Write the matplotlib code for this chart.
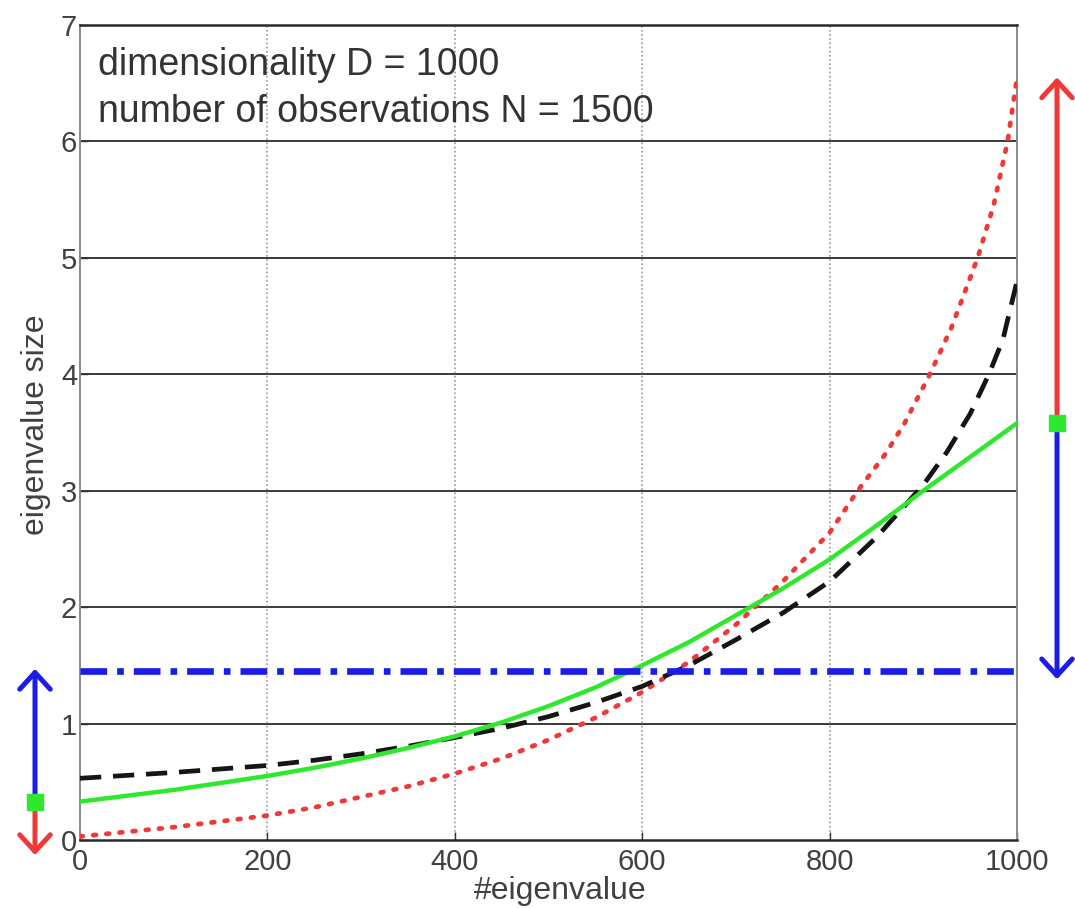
import matplotlib
matplotlib.use("Agg")
import matplotlib.pyplot as plt

plt.rcParams['font.family'] = ['Liberation Sans', 'DejaVu Sans']

# data
x_green = [0, 50, 100, 150, 200, 250, 300, 350, 400, 450, 500, 550, 600, 650, 700,
           750, 800, 850, 900, 950, 1000]
y_green = [0.33, 0.38, 0.43, 0.49, 0.55, 0.62, 0.70, 0.79, 0.89, 1.01, 1.15, 1.31, 1.50,
           1.70, 1.93, 2.16, 2.41, 2.70, 3.00, 3.29, 3.58]

x_black = [0, 50, 100, 150, 200, 250, 300, 350, 400, 450, 500, 550, 600, 650, 700, 750,
           800, 850, 900, 925, 950, 970, 985, 1000]
y_black = [0.53, 0.555, 0.58, 0.61, 0.64, 0.685, 0.74, 0.805, 0.88, 0.96, 1.06, 1.18, 1.32,
           1.50, 1.72, 1.95, 2.22, 2.60, 3.05, 3.33, 3.66, 4.00, 4.30, 4.80]

x_red = [0, 50, 100, 150, 200, 250, 300, 350, 400, 450, 500, 550, 600, 650, 700, 750,
         800, 830, 860, 880, 907, 930, 958, 975, 990, 1000]
y_red = [0.03, 0.07, 0.11, 0.16, 0.21, 0.28, 0.37, 0.46, 0.57, 0.70, 0.86, 1.05, 1.27,
         1.53, 1.85, 2.22, 2.64, 3.00, 3.32, 3.58, 4.00, 4.40, 5.00, 5.45, 6.00, 6.55]

blue_level = 1.45

x_ticks = [0, 200, 400, 600, 800, 1000]
y_ticks = [0, 1, 2, 3, 4, 5, 6, 7]
info_lines = ["dimensionality D = 1000", "number of observations N = 1500"]

GREEN = '#2ee82e'
RED = '#f03838'
BLUE = '#1c1ce8'
BLACK = '#151515'

fig = plt.figure(figsize=(10.75, 9.08), dpi=100)
ax = fig.add_axes([80/1075, 68/908, 937/1075, 815/908])

ax.set_xlim(0, 1000)
ax.set_ylim(0, 7)

# grid: horizontal solid dark, vertical dotted grey
for yt in y_ticks[1:-1]:
    ax.axhline(yt, color='#3a3a3a', lw=1.4, zorder=1)
for xt in x_ticks[1:-1]:
    ax.axvline(xt, color='#9a9a9a', lw=1.2, ls=(0, (1, 1.5)), zorder=1)

ax.plot(x_red, y_red, color=RED, lw=3.4, ls=(0, (0.6, 2.2)), dash_capstyle='round', zorder=3)
ax.plot(x_black, y_black, color=BLACK, lw=3.4, ls=(0, (4.5, 2.5)), zorder=4)
ax.plot(x_green, y_green, color=GREEN, lw=3.2, zorder=5)
ax.plot([0, 1000], [blue_level, blue_level], color=BLUE, lw=4.8,
        ls=(0, (4, 1.5, 1, 1.5)), zorder=6)

ax.set_xticks(x_ticks)
ax.set_yticks(y_ticks)
ax.tick_params(direction='in', length=6, width=1.0, labelsize=21,
               labelcolor='#404040', color='#333333', pad=2)
ax.tick_params(axis='x', pad=6)

for s in ['top', 'bottom']:
    ax.spines[s].set_color('#2a2a2a')
    ax.spines[s].set_linewidth(1.8)
for s in ['left', 'right']:
    ax.spines[s].set_color('#8a8a8a')
    ax.spines[s].set_linewidth(1.4)

ax.set_xlabel('#eigenvalue', fontsize=23, color='#404040', va='top')
ax.xaxis.set_label_coords(0.513, -0.044)
ax.set_ylabel('eigenvalue size', fontsize=23, color='#404040')
ax.yaxis.set_label_coords(-0.031, 0.509)

ax.text(19, 6.57, info_lines[0], fontsize=27, color='#333333', va='baseline', ha='left')
ax.text(19, 6.17, info_lines[1], fontsize=27, color='#333333', va='baseline', ha='left')

# arrows outside the axes
def arrow(xp, y0, y1, color):
    ax.annotate('', xy=(xp, y1), xytext=(xp, y0), xycoords=('axes fraction', 'data'),
                textcoords=('axes fraction', 'data'),
                arrowprops=dict(arrowstyle='->,head_length=1.2,head_width=1.1',
                                color=color, lw=3.6, shrinkA=0, shrinkB=0),
                annotation_clip=False)

xl = (35 - 80) / 937
xr = (1057 - 80) / 937
arrow(xl, y_green[0], blue_level + 0.02, BLUE)
arrow(xl, y_green[0], -0.13, RED)
arrow(xr, y_green[-1], y_red[-1], RED)
arrow(xr, y_green[-1], blue_level - 0.07, BLUE)
ax.plot([xl], [y_green[0]], 's', color=GREEN, ms=11, transform=ax.get_yaxis_transform(), clip_on=False, zorder=10)
ax.plot([xr], [y_green[-1]], 's', color=GREEN, ms=11, transform=ax.get_yaxis_transform(), clip_on=False, zorder=10)

fig.savefig('out.png', dpi=100)
